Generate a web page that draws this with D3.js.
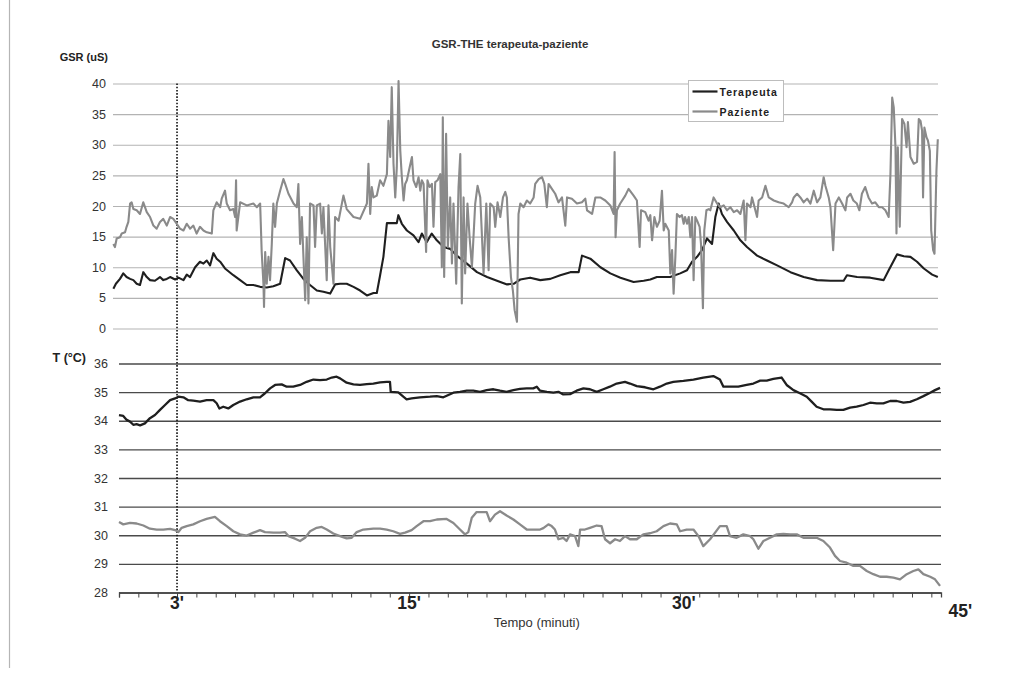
<!DOCTYPE html>
<html>
<head>
<meta charset="utf-8">
<script src="https://cdn.jsdelivr.net/npm/d3@7"></script>
<style>
  body { margin: 0; background: #fff; }
  text { font-family: "Liberation Sans", Arial, sans-serif; }
</style>
</head>
<body>
<svg id="chart" width="1009" height="690"></svg>
<script>
// GSR (uS) tracks, x in minutes
const gsrTerapeuta = [[0.02,6.5],[0.15,7.3],[0.36,8.1],[0.53,9.0],[0.70,8.4],[0.88,8.1],[1.05,7.9],[1.22,7.3],[1.39,7.1],[1.56,9.2],[1.74,8.4],[1.91,7.9],[2.16,7.8],[2.42,8.4],[2.59,7.9],[2.77,8.1],[2.94,8.4],[3.20,8.0],[3.37,8.3],[3.63,7.9],[3.80,8.8],[3.97,8.4],[4.23,10.0],[4.48,10.9],[4.66,10.6],[4.83,11.1],[5.00,10.3],[5.17,12.3],[5.34,11.4],[5.52,10.9],[5.77,9.8],[6.20,8.7],[6.55,7.9],[6.89,7.1],[7.23,7.1],[7.58,6.8],[7.92,6.7],[8.26,6.9],[8.61,7.3],[8.87,11.5],[9.12,11.1],[9.47,9.5],[9.81,8.1],[10.15,7.1],[10.50,6.2],[10.84,6.0],[11.19,5.7],[11.44,7.2],[11.70,7.3],[12.04,7.3],[12.39,6.8],[12.73,6.2],[13.08,5.4],[13.42,5.8],[13.59,5.8],[13.76,8.7],[13.93,11.7],[14.11,17.2],[14.62,17.2],[14.70,18.5],[14.88,17.1],[15.14,16.0],[15.48,15.2],[15.74,14.1],[15.91,15.5],[16.16,14.1],[16.42,15.5],[16.68,14.4],[17.03,13.3],[17.37,13.0],[17.71,11.9],[18.23,10.6],[18.75,9.2],[19.27,8.4],[19.78,7.8],[20.30,7.2],[20.64,7.3],[20.98,8.0],[21.49,8.3],[22.01,7.9],[22.53,8.1],[23.04,8.7],[23.56,9.2],[23.99,9.2],[24.16,11.9],[24.59,11.4],[25.11,10.0],[25.62,9.0],[26.14,8.3],[26.82,7.6],[27.34,7.8],[27.68,8.0],[28.02,8.4],[28.70,8.4],[29.22,9.0],[29.57,9.5],[29.83,10.9],[30.09,11.7],[30.34,12.8],[30.60,14.7],[30.86,13.8],[31.03,18.2],[31.20,20.4],[31.37,18.7],[31.63,17.4],[31.98,16.0],[32.32,14.4],[32.66,13.3],[33.18,11.9],[33.69,11.1],[34.21,10.3],[34.90,9.2],[35.58,8.4],[36.27,7.9],[36.96,7.8],[37.64,7.8],[37.81,8.7],[38.33,8.4],[39.01,8.3],[39.70,7.9],[39.96,9.5],[40.39,12.1],[40.74,11.8],[41.08,11.7],[41.42,10.9],[41.77,9.8],[42.20,8.8],[42.49,8.4]];

const gsrPaziente = [[0.02,13.8],[0.10,13.3],[0.19,14.7],[0.36,14.9],[0.45,15.5],[0.62,15.7],[0.70,16.6],[0.79,17.4],[0.88,20.4],[0.96,20.6],[1.05,19.5],[1.22,19.3],[1.39,18.7],[1.56,20.6],[1.74,19.0],[1.91,18.2],[2.08,16.8],[2.25,16.3],[2.42,17.4],[2.59,17.9],[2.77,16.8],[2.94,18.2],[3.11,17.9],[3.28,17.1],[3.45,16.3],[3.63,16.0],[3.80,17.1],[3.97,16.3],[4.14,16.8],[4.31,15.5],[4.48,16.6],[4.66,16.0],[4.83,15.7],[5.09,15.5],[5.17,19.3],[5.34,20.6],[5.52,19.8],[5.60,21.2],[5.77,22.5],[5.86,20.4],[6.03,19.3],[6.20,19.5],[6.29,18.2],[6.34,24.2],[6.37,16.0],[6.55,20.6],[6.89,20.1],[7.23,20.4],[7.41,19.8],[7.58,20.4],[7.66,12.5],[7.75,7.3],[7.78,3.5],[7.84,12.5],[7.92,7.3],[8.01,11.7],[8.09,7.9],[8.18,13.8],[8.26,20.4],[8.35,16.6],[8.44,20.4],[8.61,22.5],[8.78,24.4],[8.87,23.6],[9.04,22.0],[9.30,20.4],[9.47,19.8],[9.55,23.6],[9.64,13.8],[9.73,18.2],[9.81,11.7],[9.90,4.6],[9.98,14.9],[10.07,4.1],[10.15,20.4],[10.33,20.1],[10.41,13.3],[10.50,20.1],[10.67,20.4],[10.76,15.5],[10.84,19.8],[11.01,7.9],[11.10,20.1],[11.19,13.3],[11.36,7.3],[11.44,18.2],[11.62,17.6],[11.87,21.7],[12.04,19.5],[12.39,18.2],[12.73,17.9],[13.08,20.4],[13.16,26.9],[13.25,18.7],[13.33,23.1],[13.42,21.4],[13.59,21.7],[13.76,24.2],[13.93,23.3],[14.11,25.2],[14.19,33.9],[14.28,28.0],[14.36,39.4],[14.45,26.9],[14.54,21.4],[14.62,26.3],[14.71,40.4],[14.80,29.0],[14.88,24.7],[14.97,20.9],[15.05,23.6],[15.14,24.2],[15.28,26.3],[15.40,28.0],[15.48,24.2],[15.62,23.1],[15.74,24.7],[15.83,22.5],[15.91,24.2],[16.00,23.6],[16.13,12.5],[16.20,24.2],[16.31,23.1],[16.43,23.6],[16.51,16.6],[16.60,23.9],[16.72,24.2],[16.86,25.2],[16.94,10.0],[16.99,34.5],[17.06,8.4],[17.16,31.8],[17.25,13.3],[17.37,21.4],[17.46,10.6],[17.54,20.4],[17.68,7.3],[17.80,23.1],[17.89,28.5],[17.97,4.1],[18.06,21.4],[18.14,9.0],[18.26,20.4],[18.37,14.9],[18.49,10.0],[18.66,20.4],[18.78,23.3],[18.92,21.4],[19.09,9.0],[19.23,20.4],[19.35,9.5],[19.43,20.4],[19.61,19.8],[19.69,16.6],[19.81,20.6],[19.95,18.2],[20.09,21.4],[20.21,22.3],[20.29,21.4],[20.38,14.9],[20.50,8.4],[20.60,6.2],[20.69,3.0],[20.81,1.1],[20.89,18.7],[20.98,20.4],[21.15,19.8],[21.32,20.9],[21.49,20.4],[21.67,21.4],[21.75,23.6],[21.93,24.4],[22.10,24.7],[22.22,23.6],[22.35,19.8],[22.44,23.6],[22.61,22.8],[22.78,22.0],[22.95,20.6],[23.13,21.4],[23.30,16.8],[23.39,21.4],[23.64,21.2],[23.90,20.4],[24.16,20.6],[24.33,21.2],[24.42,19.3],[24.68,18.7],[24.85,21.4],[25.10,21.4],[25.36,20.9],[25.62,20.1],[25.79,18.7],[25.84,28.8],[25.89,14.9],[25.96,19.3],[26.13,20.4],[26.39,21.7],[26.56,22.8],[26.82,21.7],[26.99,20.9],[27.13,13.3],[27.20,19.3],[27.42,19.0],[27.59,17.6],[27.68,18.5],[27.77,14.4],[27.89,18.2],[28.02,16.6],[28.16,17.6],[28.28,22.5],[28.37,16.0],[28.45,17.1],[28.63,16.0],[28.71,9.0],[28.80,12.8],[28.88,5.7],[28.97,11.7],[29.05,18.7],[29.19,18.2],[29.31,18.5],[29.40,17.1],[29.47,18.2],[29.57,17.1],[29.66,18.2],[29.74,14.9],[29.83,18.2],[29.91,7.9],[30.00,18.2],[30.09,17.6],[30.22,16.6],[30.29,13.8],[30.39,3.3],[30.46,16.0],[30.57,19.3],[30.69,19.5],[30.77,19.3],[30.94,21.4],[31.12,20.4],[31.29,19.8],[31.46,20.1],[31.63,19.3],[31.80,19.8],[31.98,19.0],[32.15,19.3],[32.32,18.7],[32.49,20.9],[32.58,14.4],[32.66,20.4],[32.84,19.8],[32.92,21.4],[33.09,19.3],[33.18,18.2],[33.26,20.9],[33.44,21.4],[33.61,23.3],[33.78,21.4],[34.04,20.9],[34.29,20.6],[34.55,20.4],[34.81,19.8],[34.98,20.6],[35.07,21.4],[35.24,22.0],[35.41,21.4],[35.58,20.6],[35.76,21.2],[35.93,20.4],[36.10,22.5],[36.27,20.6],[36.44,21.4],[36.61,24.7],[36.70,23.3],[36.87,21.4],[36.96,19.8],[37.10,12.8],[37.22,20.4],[37.39,21.4],[37.56,20.4],[37.73,19.3],[37.82,21.4],[37.99,22.0],[38.14,20.9],[38.32,20.4],[38.45,19.3],[38.58,22.0],[38.75,23.1],[38.92,21.4],[39.10,20.4],[39.27,20.6],[39.45,19.8],[39.62,19.8],[39.79,19.3],[39.96,18.2],[40.05,25.2],[40.14,37.7],[40.22,36.1],[40.31,29.6],[40.36,15.5],[40.43,29.6],[40.53,16.6],[40.65,34.2],[40.77,33.4],[40.88,29.6],[40.95,33.7],[41.08,28.0],[41.25,26.9],[41.42,27.2],[41.51,34.2],[41.60,33.9],[41.68,32.3],[41.73,21.4],[41.80,32.8],[41.91,31.2],[41.98,30.7],[42.08,29.0],[42.15,16.0],[42.25,12.8],[42.32,12.2],[42.42,25.8],[42.49,30.9]];

// temperature (°C) tracks, x in minutes
const tempTerapeuta = [[0.00,34.20],[0.22,34.17],[0.40,34.03],[0.57,33.97],[0.74,33.86],[0.91,33.88],[1.09,33.84],[1.34,33.91],[1.60,34.09],[1.86,34.20],[2.12,34.38],[2.38,34.55],[2.64,34.72],[2.90,34.78],[3.07,34.84],[3.33,34.82],[3.58,34.72],[3.84,34.70],[4.19,34.67],[4.53,34.72],[4.88,34.72],[5.05,34.61],[5.19,34.43],[5.39,34.49],[5.65,34.43],[5.91,34.55],[6.26,34.67],[6.60,34.75],[6.95,34.82],[7.29,34.82],[7.55,34.96],[7.81,35.13],[8.07,35.25],[8.41,35.27],[8.67,35.19],[9.01,35.19],[9.36,35.25],[9.70,35.36],[10.05,35.44],[10.39,35.42],[10.74,35.44],[11.00,35.51],[11.25,35.54],[11.43,35.48],[11.77,35.33],[12.12,35.27],[12.46,35.25],[12.81,35.28],[13.15,35.30],[13.50,35.34],[13.84,35.36],[14.01,35.36],[14.05,35.01],[14.44,34.99],[14.70,34.84],[14.87,34.75],[15.13,34.78],[15.56,34.82],[16.08,34.84],[16.43,34.86],[16.77,34.82],[17.03,34.90],[17.29,34.98],[17.63,35.01],[17.98,35.05],[18.32,35.05],[18.67,35.01],[19.01,35.07],[19.36,35.10],[19.70,35.05],[20.04,35.01],[20.39,35.07],[20.73,35.11],[21.08,35.13],[21.42,35.13],[21.60,35.19],[21.77,35.05],[22.12,35.01],[22.46,34.98],[22.72,35.01],[22.97,34.92],[23.32,34.93],[23.66,35.05],[24.01,35.13],[24.35,35.10],[24.70,35.01],[25.04,35.10],[25.38,35.19],[25.73,35.30],[26.16,35.36],[26.42,35.30],[26.77,35.21],[27.20,35.17],[27.63,35.10],[27.97,35.19],[28.32,35.30],[28.66,35.36],[29.18,35.39],[29.70,35.44],[30.21,35.51],[30.73,35.56],[31.07,35.44],[31.25,35.19],[31.59,35.19],[32.02,35.19],[32.45,35.25],[32.80,35.30],[33.15,35.40],[33.49,35.40],[33.83,35.46],[34.26,35.51],[34.52,35.25],[34.87,35.07],[35.21,34.96],[35.56,34.84],[35.81,34.67],[36.07,34.49],[36.42,34.40],[36.76,34.40],[37.11,34.38],[37.45,34.38],[37.80,34.46],[38.14,34.49],[38.49,34.55],[38.83,34.63],[39.18,34.61],[39.52,34.61],[39.87,34.69],[40.21,34.69],[40.56,34.63],[40.90,34.66],[41.25,34.75],[41.59,34.86],[41.94,34.98],[42.19,35.07],[42.45,35.15]];

const tempPaziente = [[0.00,30.46],[0.22,30.38],[0.57,30.43],[0.91,30.41],[1.26,30.34],[1.60,30.23],[1.95,30.20],[2.29,30.20],[2.64,30.22],[2.90,30.18],[3.07,30.11],[3.24,30.26],[3.50,30.32],[3.84,30.38],[4.19,30.49],[4.53,30.57],[4.96,30.64],[5.22,30.49],[5.57,30.32],[5.91,30.14],[6.26,30.03],[6.60,29.99],[6.95,30.09],[7.29,30.18],[7.55,30.11],[7.98,30.09],[8.32,30.09],[8.58,30.11],[8.76,29.97],[9.10,29.88],[9.36,29.80],[9.62,29.91],[9.88,30.14],[10.22,30.26],[10.48,30.29],[10.74,30.20],[11.08,30.06],[11.43,29.97],[11.77,29.89],[12.03,29.91],[12.29,30.11],[12.63,30.20],[13.15,30.23],[13.50,30.23],[13.84,30.20],[14.18,30.14],[14.53,30.05],[14.79,30.09],[15.13,30.18],[15.39,30.32],[15.74,30.49],[16.08,30.49],[16.43,30.55],[16.94,30.57],[17.29,30.43],[17.63,30.20],[17.89,30.03],[18.06,30.11],[18.24,30.61],[18.49,30.81],[19.01,30.81],[19.18,30.49],[19.44,30.72],[19.70,30.84],[20.04,30.69],[20.39,30.55],[20.73,30.38],[21.08,30.20],[21.42,30.20],[21.77,30.20],[21.94,30.25],[22.20,30.38],[22.37,30.32],[22.54,30.20],[22.72,29.86],[22.97,29.91],[23.14,29.80],[23.32,30.03],[23.58,29.97],[23.75,29.62],[23.84,30.20],[24.09,30.20],[24.35,30.26],[24.70,30.34],[24.95,30.32],[25.13,29.86],[25.39,29.72],[25.65,29.86],[25.90,29.80],[26.16,29.97],[26.42,29.86],[26.77,29.86],[27.11,30.03],[27.46,30.07],[27.80,30.14],[28.15,30.32],[28.49,30.41],[28.84,30.38],[29.01,30.14],[29.35,30.20],[29.70,30.20],[29.96,29.97],[30.21,29.62],[30.56,29.86],[30.82,30.09],[31.07,30.32],[31.42,30.32],[31.59,29.97],[31.93,29.91],[32.28,30.03],[32.63,29.97],[32.80,29.86],[33.06,29.53],[33.32,29.80],[33.66,29.91],[34.01,30.03],[34.35,30.05],[34.70,30.03],[35.04,30.03],[35.39,29.91],[35.73,29.91],[36.07,29.91],[36.42,29.80],[36.76,29.57],[37.02,29.28],[37.28,29.10],[37.62,29.04],[37.97,28.93],[38.31,28.93],[38.66,28.75],[39.00,28.64],[39.35,28.55],[39.69,28.55],[40.04,28.52],[40.38,28.46],[40.73,28.64],[41.07,28.75],[41.33,28.81],[41.59,28.64],[41.94,28.55],[42.19,28.46],[42.45,28.23]];

const gsrTicks = [0, 5, 10, 15, 20, 25, 30, 35, 40];
const tempTicks = [28, 29, 30, 31, 32, 33, 34, 35, 36];
const minuteTicks = d3.range(0, 43);
const timeLabels = ["3'", "15'", "30'", "45'"];
const timeLabelAt = [3, 15, 29.2, 43.5];
const seriesNames = ["Terapeuta", "Paziente"];
const seriesColors = ["#1f1f1f", "#8a8a8a"];

const svg = d3.select('#chart');

// two stacked panels sharing the time axis
const gsrX = d3.scaleLinear().domain([0, 42.5]).range([113, 938]);
const gsrY = d3.scaleLinear().domain([0, 40]).range([328.5, 83.5]);
const tX = d3.scaleLinear().domain([0, 42.5]).range([119, 941]);
const tY = d3.scaleLinear().domain([28, 36]).range([592.5, 363.5]);

// page edge from the scanned sheet
svg.append('line')
    .attr('x1', 9.5).attr('x2', 9.5).attr('y1', 0).attr('y2', 668)
    .attr('stroke', '#b5b5b5').attr('stroke-width', 1.2);

svg.append('text')
    .attr('x', 510).attr('y', 48)
    .attr('text-anchor', 'middle')
    .attr('font-size', 11.5).attr('font-weight', 'bold').attr('fill', '#333')
    .text('GSR-THE terapeuta-paziente');

// GSR grid + labels
const gsrAxis = svg.append('g')
    .attr('transform', `translate(${gsrX.range()[0]},0)`)
    .call(d3.axisLeft(gsrY)
        .tickValues(gsrTicks)
        .tickSize(-(gsrX.range()[1] - gsrX.range()[0]))
        .tickPadding(7));
gsrAxis.select('.domain').remove();
gsrAxis.selectAll('line').attr('stroke', '#b3b3b3').attr('stroke-width', 1.2);
gsrAxis.selectAll('text').attr('font-size', 12.5).attr('fill', '#333')
    .attr('font-family', '"Liberation Sans", Arial, sans-serif');

svg.append('text')
    .attr('x', 108).attr('y', 61)
    .attr('text-anchor', 'end')
    .attr('font-size', 11).attr('font-weight', 'bold').attr('fill', '#222')
    .text('GSR (uS)');

// temperature grid + labels
const tAxis = svg.append('g')
    .attr('transform', `translate(${tX.range()[0]},0)`)
    .call(d3.axisLeft(tY)
        .tickValues(tempTicks)
        .tickSize(-(tX.range()[1] - tX.range()[0]))
        .tickPadding(11));
tAxis.select('.domain').remove();
tAxis.selectAll('line').attr('stroke', '#4a4a4a').attr('stroke-width', 1.3);
tAxis.selectAll('text').attr('font-size', 12.5).attr('fill', '#333')
    .attr('font-family', '"Liberation Sans", Arial, sans-serif');

svg.append('text')
    .attr('x', 86).attr('y', 362)
    .attr('text-anchor', 'end')
    .attr('font-size', 12.5).attr('font-weight', 'bold').attr('fill', '#222')
    .text('T (°C)');

// minute ticks under the bottom panel
const xAxis = svg.append('g')
    .attr('transform', `translate(0,${tY(28)})`)
    .call(d3.axisBottom(tX).tickValues(minuteTicks).tickSize(5).tickFormat(''));
xAxis.select('.domain').attr('stroke', '#444').attr('stroke-width', 1.3);
xAxis.selectAll('line').attr('stroke', '#444');

svg.selectAll('.time-label')
    .data(timeLabels)
    .join('text')
    .attr('class', 'time-label')
    .attr('x', (d, i) => tX(timeLabelAt[i]))
    .attr('y', (d, i) => i === 3 ? 617 : 609)
    .attr('text-anchor', 'middle')
    .attr('font-size', 17.5).attr('font-weight', 'bold').attr('fill', '#222')
    .attr('font-family', '"Liberation Sans Narrow", "Liberation Sans", Arial, sans-serif')
    .text(d => d);

svg.append('text')
    .attr('x', tX(21.6)).attr('y', 627)
    .attr('text-anchor', 'middle')
    .attr('font-size', 13).attr('fill', '#333')
    .attr('font-family', '"Liberation Sans Narrow", "Liberation Sans", Arial, sans-serif')
    .text('Tempo (minuti)');

// dotted marker at minute 3
svg.append('line')
    .attr('x1', tX(3)).attr('x2', tX(3))
    .attr('y1', gsrY(40)).attr('y2', tY(28) - 2)
    .attr('stroke', '#111').attr('stroke-width', 1.6)
    .attr('stroke-dasharray', '1.6,1.6');

const gsrLine = d3.line().x(d => gsrX(d[0])).y(d => gsrY(d[1]));
const tLine = d3.line().x(d => tX(d[0])).y(d => tY(d[1]));

[gsrTerapeuta, gsrPaziente].forEach((series, i) => {
    svg.append('path')
        .datum(series)
        .attr('fill', 'none')
        .attr('stroke', seriesColors[i])
        .attr('stroke-width', 2.1)
        .attr('stroke-linejoin', 'round')
        .attr('d', gsrLine);
});

[tempPaziente, tempTerapeuta].forEach((series, i) => {
    svg.append('path')
        .datum(series)
        .attr('fill', 'none')
        .attr('stroke', i === 0 ? seriesColors[1] : seriesColors[0])
        .attr('stroke-width', 2.3)
        .attr('stroke-linejoin', 'round')
        .attr('d', tLine);
});

// legend
const legend = svg.append('g').attr('transform', 'translate(688.5,80.5)');
legend.append('rect')
    .attr('width', 95).attr('height', 41)
    .attr('fill', '#fff').attr('stroke', '#bdbdbd');
seriesNames.forEach((name, i) => {
    legend.append('line')
        .attr('x1', 4).attr('x2', 29)
        .attr('y1', 11 + i * 20).attr('y2', 11 + i * 20)
        .attr('stroke', seriesColors[i]).attr('stroke-width', 2.2);
    legend.append('text')
        .attr('x', 31).attr('y', 15 + i * 20)
        .attr('font-size', 10.5).attr('font-weight', 'bold').attr('fill', '#222')
        .attr('letter-spacing', 1)
        .text(name);
});
</script>
</body>
</html>
